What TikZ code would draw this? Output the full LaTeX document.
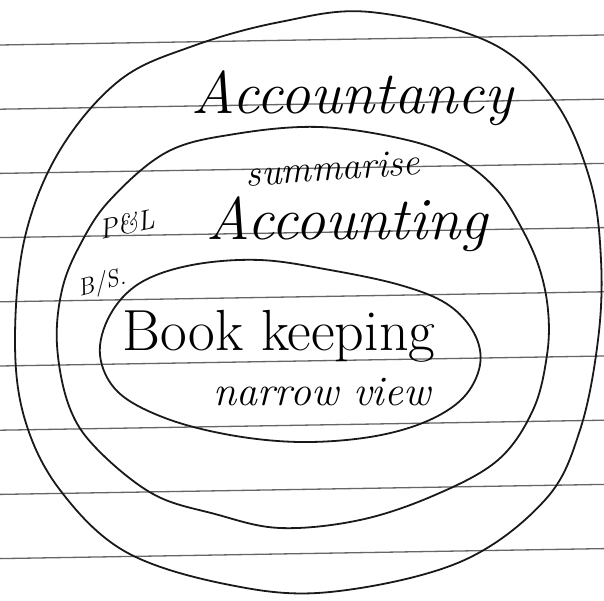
\documentclass[tikz,border=0pt]{standalone}
\usepackage{tikz}
\usetikzlibrary{positioning}

\begin{document}
\begin{tikzpicture}[
    x=1pt,y=-1pt,
    rule/.style={line width=1.3pt,black!60},
    ring/.style={line width=1.8pt,black!90},
    word/.style={inner sep=0pt,font=\itshape},
    note/.style={inner sep=0pt,font=\itshape}
]
\useasboundingbox[fill=white] (0,0) rectangle (604,601);

% Ruled lines of the page
\foreach \k in {0,...,8}
  \draw[rule] (0,{45+64.2*\k}) -- (604,{35+64.2*\k});

% Outer ring: accountancy
\draw[ring] plot[smooth cycle,tension=0.6] coordinates {
  (370,12) (489,42) (554,100) (590,180) (601,260) (598,340) (580,430)
  (545,500) (460,562) (330,592) (230,585) (126,552) (60,490) (25,420)
  (15,340) (25,237) (60,150) (120,80) (193,46) (280,22)};

% Middle ring: accounting
\draw[ring] plot[smooth cycle,tension=0.6] coordinates {
  (320,127) (407,140) (460,160) (497,190) (521,227) (539,267) (548,310)
  (547,355) (533,410) (498,460) (435,495) (360,520) (280,528) (215,514)
  (153,494) (96,448) (69,406) (57,345) (62,290) (80,245) (110,200)
  (167,152) (235,134)};

% Inner ring: book keeping
\draw[ring] plot[smooth cycle,tension=0.6] coordinates {
  (260,260) (330,270) (400,285) (447,304) (474,333) (480,365) (463,398)
  (425,422) (370,437) (300,442) (230,435) (165,418) (118,392) (100,355)
  (110,315) (140,283) (192,265)};

% Labels
\node[word,font=\itshape\fontsize{60}{60}\selectfont] (accy) at (352,98) {Accountancy};
\node[note,font=\itshape\fontsize{38}{38}\selectfont,rotate=4] (summ) at (333,168) {summarise};
\node[word,font=\itshape\fontsize{60}{60}\selectfont] (acct) at (347,224) {Accounting};
\node[note,font=\itshape\fontsize{28}{28}\selectfont,rotate=12] (pl) at (127,224) {P\&L};
\node[note,font=\itshape\fontsize{24}{24}\selectfont,rotate=15] (bs) at (102,284) {B/S.};
\node[word,font=\fontsize{58}{58}\selectfont] (book) at (279,336) {Book keeping};
\node[note,font=\itshape\fontsize{42}{42}\selectfont] (narrow) at (322,392) {narrow view};
\end{tikzpicture}
\end{document}
